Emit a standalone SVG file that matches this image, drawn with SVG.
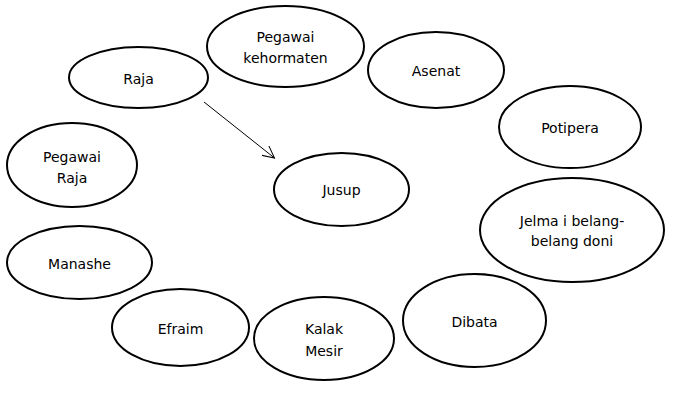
<svg xmlns="http://www.w3.org/2000/svg" width="682" height="400" viewBox="0 0 682 400">
<style>
.n ellipse{fill:#fff;stroke:#000;stroke-width:2}
.n text{font-family:"DejaVu Sans","Liberation Sans",sans-serif;font-size:14px;fill:#000;text-anchor:middle}
.c line{stroke:#000;stroke-width:1;fill:none}
</style>
<defs>
<marker id="arr" markerWidth="14" markerHeight="12" refX="12" refY="6" orient="auto" markerUnits="userSpaceOnUse">
<path d="M0,0 L12,6 L0,12" fill="none" stroke="#000" stroke-width="1"/>
</marker>
</defs>
<rect width="682" height="400" fill="#fff"/>
<g id="raja" class="n"><ellipse cx="138.5" cy="77.5" rx="69.5" ry="30.5"/><text x="138.5" y="83.5">Raja</text></g>
<g id="pegawai-kehormaten" class="n"><ellipse cx="285.5" cy="46.5" rx="78.5" ry="40.5"/><text x="285.5" y="42">Pegawai</text><text x="285.5" y="62.5">kehormaten</text></g>
<g id="asenat" class="n"><ellipse cx="436" cy="70" rx="68" ry="38"/><text x="436" y="76">Asenat</text></g>
<g id="potipera" class="n"><ellipse cx="570" cy="127" rx="71" ry="41"/><text x="570" y="133">Potipera</text></g>
<g id="pegawai-raja" class="n"><ellipse cx="72" cy="165" rx="65" ry="42"/><text x="72" y="161.5">Pegawai</text><text x="72" y="183">Raja</text></g>
<g id="jusup" class="n"><ellipse cx="341.5" cy="189.5" rx="67.5" ry="36.5"/><text x="341.5" y="195">Jusup</text></g>
<g id="jelma" class="n"><ellipse cx="572" cy="230" rx="92" ry="52"/><text x="572" y="226">Jelma i belang-</text><text x="572" y="246">belang doni</text></g>
<g id="manashe" class="n"><ellipse cx="79.5" cy="262.5" rx="72.5" ry="36.5"/><text x="79.5" y="269">Manashe</text></g>
<g id="efraim" class="n"><ellipse cx="180.5" cy="327.5" rx="68.5" ry="38.5"/><text x="180.5" y="334">Efraim</text></g>
<g id="kalak-mesir" class="n"><ellipse cx="324" cy="338.5" rx="70" ry="41.5"/><text x="324" y="334">Kalak</text><text x="324" y="355.5">Mesir</text></g>
<g id="dibata" class="n"><ellipse cx="474.5" cy="320.5" rx="71.5" ry="46.5"/><text x="474.5" y="327">Dibata</text></g>
<g id="connectors" class="c"><line x1="204" y1="102" x2="274.5" y2="158" marker-end="url(#arr)"/></g>
</svg>
